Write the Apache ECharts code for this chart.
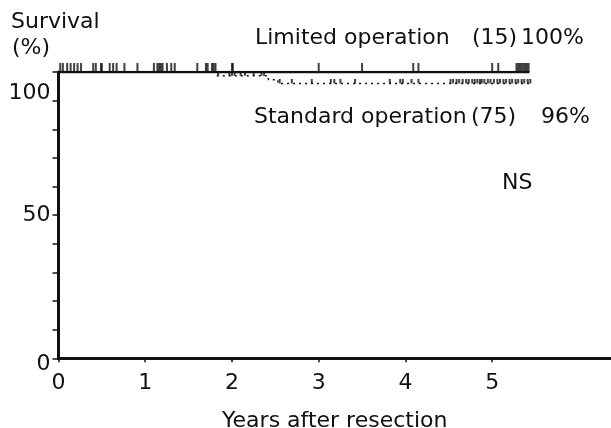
<!DOCTYPE html>
<html>
<head>
<meta charset="utf-8">
<script src="https://cdn.jsdelivr.net/npm/echarts@6/dist/echarts.min.js"></script>
<style>
  html, body { margin: 0; padding: 0; background: #fff; }
  #chart { width: 611px; height: 428px; }
</style>
</head>
<body>
<div id="chart"></div>
<script>
// x 轴刻度 / y 轴刻度
const xTicks = [0, 1, 2, 3, 4, 5];
const yTicks = [0, 10, 20, 30, 40, 50, 60, 70, 80, 90, 100];
const yLabels = [0, 50, 100];

// 生存曲线 (years, survival %)
const limitedCurve = [[0, 100], [5.43, 100]];
const standardCurve = [[0, 100], [1.82, 98.7], [2.42, 97.3], [2.53, 96.0], [5.44, 96.0]];

// 删失标记 (years)
const limitedCensor = [0.10, 0.49, 0.50, 0.76, 1.16, 1.18, 1.60, 2.00, 2.01, 3.00, 3.50, 4.09, 4.15,
  5.00, 5.07, 5.28, 5.30, 5.32, 5.34, 5.36, 5.38, 5.40, 5.42];
const standardCensorTop = [0.02, 0.05, 0.14, 0.18, 0.22, 0.26, 0.40, 0.43, 0.59, 0.63, 0.67, 0.91,
  1.10, 1.14, 1.20, 1.25, 1.30, 1.34, 1.70, 1.72, 1.77, 1.79, 1.81];
const standardCensorL1 = [1.84, 1.97, 2.00, 2.03, 2.10, 2.15, 2.25, 2.34, 2.37];
const standardCensorL2 = [2.55, 2.69, 2.92, 3.14, 3.18, 3.25, 3.42, 3.82, 3.94, 3.97, 4.07, 4.15,
  4.52, 4.55, 4.59, 4.62, 4.66, 4.70, 4.73, 4.77, 4.80, 4.83, 4.86, 4.88, 4.91, 4.95, 4.98,
  5.02, 5.06, 5.09, 5.13, 5.16, 5.20, 5.23, 5.27, 5.30, 5.34, 5.37, 5.41, 5.44];

const FONT = "DejaVu Sans";
const INK = "#111";
const FS = 22;

const chart = echarts.init(document.getElementById("chart"));

const censorSeries = (data, height, z) => ({
  type: "scatter",
  data: data,
  symbol: "rect",
  symbolSize: [2, height],
  symbolOffset: [0, -height / 2],
  itemStyle: { color: INK },
  silent: true,
  z: z,
});

const txt = (text, left, top) => ({
  type: "text",
  left: left,
  top: top,
  style: { text: text, font: FS + "px '" + FONT + "'", fill: INK },
});

chart.setOption({
  animation: false,
  textStyle: { fontFamily: FONT },
  grid: { left: 58.5, top: 72, right: 0, bottom: 69.7, outerBoundsMode: "none" },
  xAxis: {
    type: "value",
    min: 0,
    max: 6.37,
    interval: 1,
    splitLine: { show: false },
    axisLine: { onZero: false, lineStyle: { color: INK, width: 3 } },
    axisTick: { customValues: xTicks, length: 4, lineStyle: { color: INK, width: 1.5 } },
    axisLabel: { customValues: xTicks, color: INK, fontSize: FS, margin: 14 },
    name: "Years after resection",
    nameLocation: "middle",
    nameGap: 52,
    nameTextStyle: { color: INK, fontSize: FS },
  },
  yAxis: {
    type: "value",
    min: 0,
    max: 100,
    interval: 10,
    splitLine: { show: false },
    axisLine: { lineStyle: { color: INK, width: 3 } },
    axisTick: { customValues: yTicks, length: 6, lineStyle: { color: INK, width: 1.5 } },
    axisLabel: {
      customValues: yLabels,
      color: INK,
      fontSize: FS,
      margin: 8,
      verticalAlign: "middle",
      formatter: (v) => (v === 100 ? "{low|100}" : v === 0 ? "{zero|0}" : String(v)),
      rich: {
        low: { fontSize: FS, color: INK, fontFamily: FONT, padding: [42, 0, 0, 0] },
        zero: { fontSize: FS, color: INK, fontFamily: FONT, padding: [12, 0, 0, 0] },
      },
    },
  },
  series: [
    {
      type: "line",
      step: "end",
      data: standardCurve,
      showSymbol: false,
      lineStyle: { color: INK, width: 1.5, type: [2, 4] },
      z: 2,
    },
    {
      type: "line",
      step: "end",
      data: limitedCurve,
      showSymbol: false,
      lineStyle: { color: INK, width: 2.5 },
      z: 3,
    },
    censorSeries(limitedCensor.map((t) => [t, 100]), 9, 4),
    censorSeries(standardCensorTop.map((t) => [t, 100]), 9, 4),
    censorSeries(standardCensorL1.map((t) => [t, 98.7]), 4.5, 4),
    censorSeries(standardCensorL2.map((t) => [t, 96.0]), 4.5, 4),
  ],
  graphic: [
    txt("Survival", 11, 11),
    txt("(%)", 12, 37),
    txt("Limited operation", 255, 27),
    txt("(15)", 472, 27),
    txt("100%", 521, 27),
    txt("Standard operation", 254, 106),
    txt("(75)", 471, 106),
    txt("96%", 541, 106),
    txt("NS", 502, 172),
  ],
});
</script>
</body>
</html>
